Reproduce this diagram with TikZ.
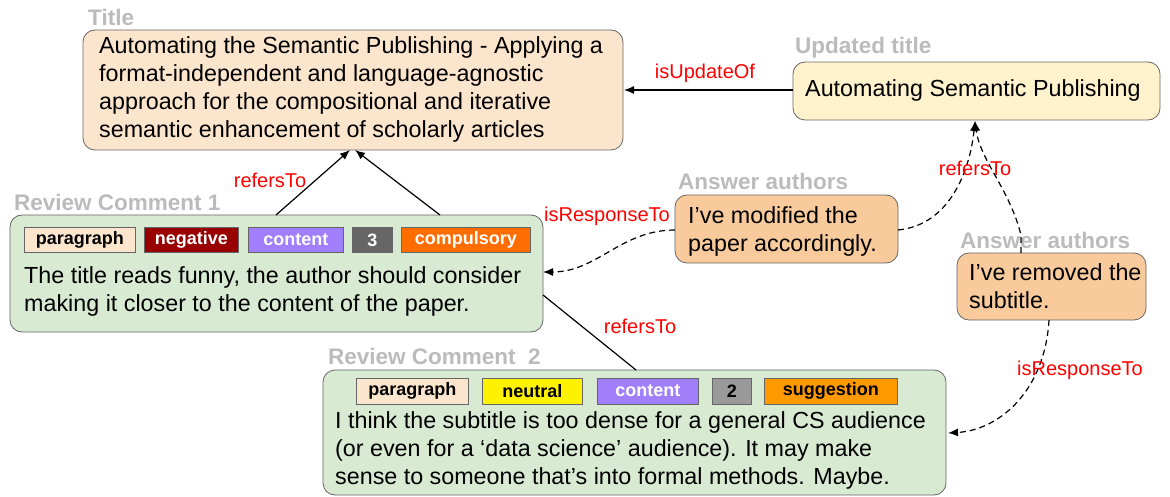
\documentclass[tikz,border=0pt]{standalone}
\usepackage{fontspec}
\setmainfont{Liberation Sans}
\usetikzlibrary{arrows.meta}
\definecolor{titlefill}{HTML}{FCE5CD}
\definecolor{updfill}{HTML}{FFF2CC}
\definecolor{ansfill}{HTML}{F9CB9C}
\definecolor{comfill}{HTML}{D9EAD3}
\definecolor{negc}{HTML}{990000}
\definecolor{conc}{HTML}{A07EFC}
\definecolor{compc}{HTML}{FF6D01}
\definecolor{sugc}{HTML}{FF9900}
\definecolor{lblgray}{HTML}{BBBBBB}
\definecolor{bordc}{HTML}{666666}
\tikzset{
 box/.style={draw=bordc, line width=0.8pt, rounded corners=12pt},
 body/.style={anchor=north west, font=\fontsize{23.3}{28}\selectfont, align=left, inner sep=0pt},
 hdr/.style={anchor=west, font=\fontsize{22.5}{23}\selectfont\bfseries, text=lblgray, inner sep=0pt},
 tag/.style={draw=bordc, line width=0.6pt, font=\fontsize{18}{18}\selectfont\bfseries, inner sep=0pt, anchor=west},
 rel/.style={font=\fontsize{20}{20}\selectfont, text=red, inner sep=1pt},
 arr/.style={-{Latex[length=10pt,width=8pt]}, line width=1.2pt},
 dsh/.style={arr, dashed, dash pattern=on 6pt off 4pt},
}
\begin{document}
\begin{tikzpicture}[x=1pt,y=-1pt]
\useasboundingbox (0,0) rectangle (1170,497);
% boxes
\draw[box, fill=titlefill] (83,30) rectangle (623,150);
\node[body] (ttext) at (99,36) {Automating the Semantic Publishing - Applying a\\format-independent and language-agnostic\\approach for the compositional and iterative\\semantic enhancement of scholarly articles};
\node[hdr] (thdr) at (88,17) {Title};
\coordinate (tB1) at (350,150);
\coordinate (tB2) at (355,150);
\coordinate (tR) at (624,90);

\draw[box, fill=updfill] (793,62) rectangle (1160,120);
\node[body] (utext) at (805,79) {Automating Semantic Publishing};
\node[hdr] (uhdr) at (795,48) {Updated title};
\coordinate (uL) at (793,90);
\coordinate (uB) at (975,121);

\draw[box, fill=ansfill] (675,195) rectangle (898,263);
\node[body] (a1text) at (688,206) {I’ve modified the\\paper accordingly.};
\node[hdr] (a1hdr) at (678,181) {Answer authors};
\coordinate (a1L) at (675,230);
\coordinate (a1R) at (898,230);

\draw[box, fill=ansfill] (957,253) rectangle (1146,320);
\node[body] (a2text) at (969,263) {I’ve removed the\\subtitle.};
\node[hdr] (a2hdr) at (960,240) {Answer authors};
\coordinate (a2T) at (1021,253);
\coordinate (a2B) at (1049,320);

\draw[box, fill=comfill] (10,215) rectangle (543,332);
\node[hdr] (c1hdr) at (14,202) {Review Comment 1};
\node[body] (c1text) at (24,266) {The title reads funny, the author should consider\\making it closer to the content of the paper.};
\node[tag, fill=titlefill, text=black, minimum width=111pt, minimum height=25pt] (t11) at (24,240) {paragraph};
\node[tag, fill=negc, text=white, minimum width=94pt, minimum height=25pt] (t12) at (144,240) {negative};
\node[tag, fill=conc, text=white, minimum width=95pt, minimum height=25pt] (t13) at (248,240) {content};
\node[tag, fill=bordc, text=white, minimum width=40pt, minimum height=25pt] (t14) at (352,240) {3};
\node[tag, fill=compc, text=white, minimum width=129pt, minimum height=25pt] (t15) at (401,240) {compulsory};
\coordinate (c1T1) at (276,215);
\coordinate (c1T2) at (440,215);
\coordinate (c1R) at (543,272);
\coordinate (c1R2) at (543,295);

\draw[box, fill=comfill] (323,370) rectangle (946,495);
\node[hdr] (c2hdr) at (328,356) {Review Comment\ \ 2};
\node[body] (c2text) at (335,411) {I think the subtitle is too dense for a general CS audience\\(or even for a ‘data science’ audience). It may make\\sense to someone that’s into formal methods. Maybe.};
\node[tag, fill=titlefill, text=black, minimum width=112pt, minimum height=26pt] (t21) at (356,391) {paragraph};
\node[tag, fill=yellow, text=black, minimum width=100pt, minimum height=26pt] (t22) at (482,391) {neutral};
\node[tag, fill=conc, text=white, minimum width=101pt, minimum height=26pt] (t23) at (597,391) {content};
\node[tag, fill=gray!80, text=black, minimum width=39pt, minimum height=26pt] (t24) at (712,391) {2};
\node[tag, fill=sugc, text=black, minimum width=133pt, minimum height=26pt] (t25) at (764,391) {suggestion};
\coordinate (c2T) at (636,370);
\coordinate (c2R) at (948,433);

% connectors
\draw[arr] (c1T1) -- (tB1);
\draw[arr] (c1T2) -- (tB2);
\node[rel] (l1) at (270,180) {refersTo};
\draw[arr] (uL) -- (tR);
\node[rel] (l2) at (705,73) {isUpdateOf};
\draw[dsh] (a1L) to[out=180,in=0] (c1R);
\node[rel] (l3) at (607,216) {isResponseTo};
\draw[dsh] (a1R) .. controls (950,225) and (970,170) .. (uB);
\draw[dsh] (a2T) -- (1021,235) .. controls (1010,190) and (980,160) .. (uB);
\node[rel] (l4) at (975,168) {refersTo};
\draw[line width=1.2pt] (c1R2) -- (c2T);
\node[rel] (l5) at (640,326) {refersTo};
\draw[dsh] (a2B) .. controls (1045,390) and (1000,430) .. (c2R);
\node[rel] (l6) at (1080,370) {isResponseTo};
\end{tikzpicture}
\end{document}
